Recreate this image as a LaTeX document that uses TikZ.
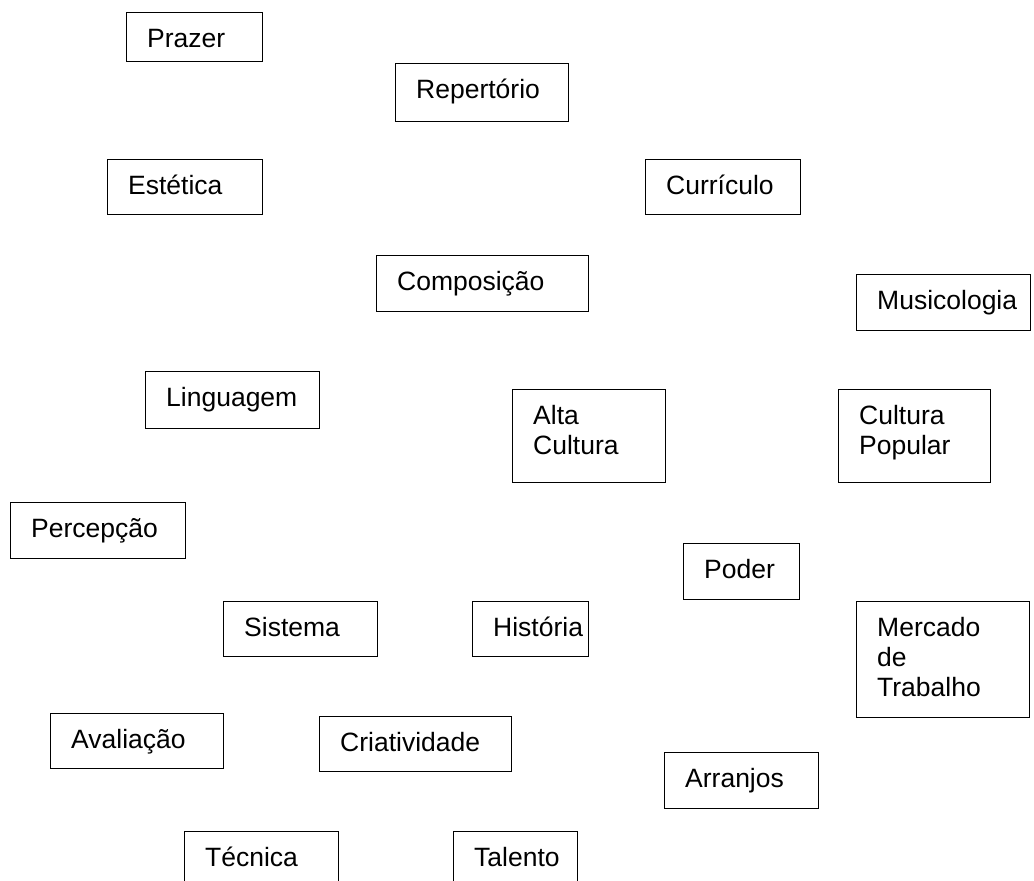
\documentclass[tikz,border=0pt]{standalone}
\usepackage{fontspec}
\setmainfont{Liberation Sans}
\usetikzlibrary{calc}
\tikzset{
  box/.style={draw=black, line width=1.4pt, rectangle, inner sep=0pt, anchor=north west},
  lbl/.style={inner sep=0pt, anchor=north west, align=left, font=\fontsize{26.5}{30}\selectfont}
}
\newcommand{\cbox}[6]{%
  \node[box, minimum width=#4-#2, minimum height=#5-#3] (#1) at (#2,#3) {};
  \node[lbl] (#1-t) at ($(#1.north west)+(21,14)$) {\strut #6};
}
\begin{document}
\begin{tikzpicture}[x=1pt,y=-1pt]
\clip (0,0) rectangle (1034,881);
\fill[white] (0,0) rectangle (1034,881);
\cbox{prazer}{126}{12}{262}{61}{Prazer}
\cbox{repertorio}{395}{63}{568}{121}{Repertório}
\cbox{estetica}{107}{159}{262}{214}{Estética}
\cbox{curriculo}{645}{159}{800}{214}{Currículo}
\cbox{composicao}{376}{255}{588}{311}{Composição}
\cbox{musicologia}{856}{274}{1030}{330}{Musicologia}
\cbox{linguagem}{145}{371}{319}{428}{Linguagem}
\cbox{alta}{512}{389}{665}{482}{Alta\\Cultura}
\cbox{popular}{838}{389}{990}{482}{Cultura\\Popular}
\cbox{percepcao}{10}{502}{185}{558}{Percepção}
\cbox{poder}{683}{543}{799}{599}{Poder}
\cbox{sistema}{223}{601}{377}{656}{Sistema}
\cbox{historia}{472}{601}{588}{656}{História}
\cbox{mercado}{856}{601}{1029}{717}{Mercado\\de\\Trabalho}
\cbox{avaliacao}{50}{713}{223}{768}{Avaliação}
\cbox{criatividade}{319}{716}{511}{771}{Criatividade}
\cbox{arranjos}{664}{752}{818}{808}{Arranjos}
\cbox{tecnica}{184}{831}{338}{900}{Técnica}
\cbox{talento}{453}{831}{577}{900}{Talento}
\end{tikzpicture}
\end{document}
